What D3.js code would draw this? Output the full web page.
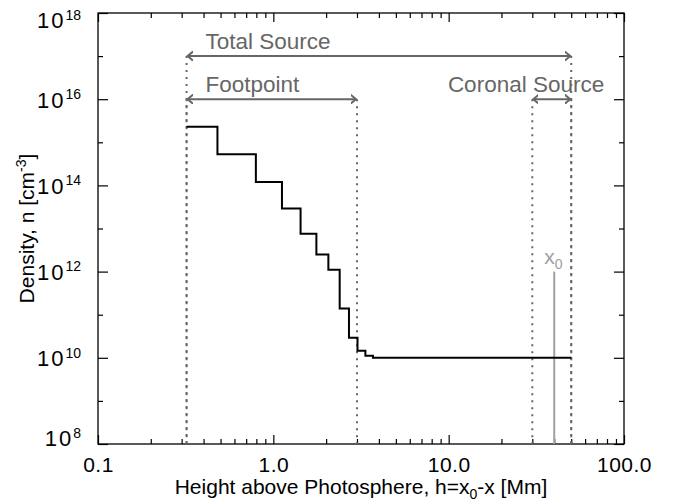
<!DOCTYPE html>
<html>
<head>
<meta charset="utf-8">
<script src="https://cdn.jsdelivr.net/npm/d3@7"></script>
<style>
  body { margin: 0; background: #fff; }
  text { font-family: Arial, "Liberation Sans", sans-serif; }
</style>
</head>
<body>
<div id="chart"></div>
<script>
// step profile: density n between consecutive heights
var stepEdges = [0.32, 0.48, 0.795, 1.12, 1.43, 1.76, 2.06, 2.39, 2.70, 3.02, 3.35, 3.7, 50];
var stepDensity = [2.3e15, 5.3e14, 1.2e14, 2.9e13, 7.6e12, 2.5e12, 1.1e12, 1.4e11, 2.9e10, 1.45e10, 1.12e10, 1.0e10];

// annotated regions
var regionNames = ['Total Source', 'Footpoint', 'Coronal Source'];
var regionFrom = [0.32, 0.32, 30];
var regionTo = [50, 3.0, 50];
var regionLevel = [1e17, 1e16, 1e16];

// x0 marker
var x0Pos = 40;
var x0Top = 1e12;

var xMajor = [0.1, 1, 10, 100];
var xMajorLabels = ['0.1', '1.0', '10.0', '100.0'];
var yMajor = [1e8, 1e10, 1e12, 1e14, 1e16, 1e18];
var yMinor = [1e9, 1e11, 1e13, 1e15, 1e17];

var width = 673, height = 502;
var padL = 98, padR = 624, padT = 13, padB = 444;
var grey = '#666', light = '#a0a0a0';

var svg = d3.select('#chart').append('svg')
    .attr('width', width)
    .attr('height', height);

var x = d3.scaleLog().domain([0.1, 100]).range([padL, padR]);
var y = d3.scaleLog().domain([1e8, 1e18]).range([padB, padT]);

var xMinor = [];
[0.1, 1, 10].forEach(function(d) {
    for (var k = 2; k <= 9; k++) xMinor.push(d * k);
});

// frame
svg.append('rect')
    .attr('x', padL).attr('y', padT)
    .attr('width', padR - padL).attr('height', padB - padT)
    .attr('fill', 'none').attr('stroke', '#000').attr('stroke-width', 1.3);

function styleAxis(g) {
    g.select('.domain').remove();
    g.selectAll('line').attr('stroke', '#000').attr('stroke-width', 1.2);
}

// bottom axis
svg.append('g').attr('transform', 'translate(0,' + padB + ')')
    .call(d3.axisBottom(x).tickValues(xMajor).tickSize(-9).tickPadding(13)
        .tickFormat(function(d, i) { return xMajorLabels[i]; }))
    .call(styleAxis)
    .selectAll('text').attr('font-size', '21px').attr('fill', '#000')
    .attr('letter-spacing', '0.5px');
svg.append('g').attr('transform', 'translate(0,' + padB + ')')
    .call(d3.axisBottom(x).tickValues(xMinor).tickSize(-5).tickFormat(''))
    .call(styleAxis);
// top axis
svg.append('g').attr('transform', 'translate(0,' + padT + ')')
    .call(d3.axisTop(x).tickValues(xMajor).tickSize(-9).tickFormat(''))
    .call(styleAxis);
svg.append('g').attr('transform', 'translate(0,' + padT + ')')
    .call(d3.axisTop(x).tickValues(xMinor).tickSize(-5).tickFormat(''))
    .call(styleAxis);

// left axis
var yl = svg.append('g').attr('transform', 'translate(' + padL + ',0)')
    .call(d3.axisLeft(y).tickValues(yMajor).tickSize(-10).tickPadding(17).tickFormat(''))
    .call(styleAxis);
yl.selectAll('.tick text').each(function(d, i) {
    var t = d3.select(this);
    var exp = Math.round(Math.log10(d));
    t.attr('font-size', '22px').attr('fill', '#000').attr('dy', '0.36em');
    t.append('tspan').attr('letter-spacing', '2px').text('10');
    t.append('tspan').attr('font-size', '14px').attr('dy', '-0.62em').text(exp);
    if (i === 0) t.attr('y', -6);
    if (i === yMajor.length - 1) t.attr('y', 7);
});
svg.append('g').attr('transform', 'translate(' + padL + ',0)')
    .call(d3.axisLeft(y).tickValues(yMinor).tickSize(-5).tickFormat(''))
    .call(styleAxis);
// right axis
svg.append('g').attr('transform', 'translate(' + padR + ',0)')
    .call(d3.axisRight(y).tickValues(yMajor).tickSize(-10).tickFormat(''))
    .call(styleAxis);
svg.append('g').attr('transform', 'translate(' + padR + ',0)')
    .call(d3.axisRight(y).tickValues(yMinor).tickSize(-5).tickFormat(''))
    .call(styleAxis);

// axis titles
var xt = svg.append('text')
    .attr('x', (padL + padR) / 2).attr('y', 494)
    .attr('text-anchor', 'middle').attr('font-size', '21px');
xt.append('tspan').text('Height above Photosphere, h=x');
xt.append('tspan').attr('font-size', '14px').attr('dy', '5').text('0');
xt.append('tspan').attr('dy', '-5').text('-x [Mm]');

var yt = svg.append('text')
    .attr('transform', 'translate(34,' + ((padT + padB) / 2) + ') rotate(-90)')
    .attr('text-anchor', 'middle').attr('font-size', '21px');
yt.append('tspan').text('Density, n [cm');
yt.append('tspan').attr('font-size', '14px').attr('dy', '-8').text('-3');
yt.append('tspan').attr('dy', '8').text(']');

// dotted region boundaries
var bounds = [];
regionNames.forEach(function(n, i) {
    bounds.push({ x: regionFrom[i], lv: regionLevel[i] });
    bounds.push({ x: regionTo[i], lv: regionLevel[i] });
});
svg.append('g').selectAll('line')
    .data(bounds)
    .enter()
    .append('line')
        .attr('x1', function(d) { return x(d.x); })
        .attr('x2', function(d) { return x(d.x); })
        .attr('y1', function(d) { return y(d.lv); })
        .attr('y2', padB)
        .attr('stroke', grey)
        .attr('stroke-width', 2)
        .attr('stroke-dasharray', '2,5');

// arrows
var defs = svg.append('defs');
function head(id, pts) {
    defs.append('marker')
        .attr('id', id)
        .attr('viewBox', '0 0 10 10')
        .attr('refX', 5).attr('refY', 5)
        .attr('markerWidth', 10).attr('markerHeight', 10)
        .attr('markerUnits', 'userSpaceOnUse')
        .attr('orient', 'auto')
        .append('path')
            .attr('d', pts)
            .attr('fill', 'none')
            .attr('stroke', grey)
            .attr('stroke-width', 2);
}
head('arrEnd', 'M-1,0 L5,5 L-1,10');
head('arrStart', 'M11,0 L5,5 L11,10');

var reg = svg.append('g').selectAll('g')
    .data(regionNames)
    .enter()
    .append('g');
reg.append('line')
    .attr('x1', function(d, i) { return x(regionFrom[i]) + 1; })
    .attr('x2', function(d, i) { return x(regionTo[i]) - 1; })
    .attr('y1', function(d, i) { return y(regionLevel[i]); })
    .attr('y2', function(d, i) { return y(regionLevel[i]); })
    .attr('stroke', grey)
    .attr('stroke-width', 2)
    .attr('marker-start', 'url(#arrStart)')
    .attr('marker-end', 'url(#arrEnd)');
reg.append('text')
    .attr('x', function(d, i) { return i < 2 ? x(regionFrom[i]) + 19 : x(regionTo[i]) + 33; })
    .attr('y', function(d, i) { return y(regionLevel[i]) - 7; })
    .attr('text-anchor', function(d, i) { return i < 2 ? 'start' : 'end'; })
    .attr('font-size', '22.5px')
    .attr('fill', grey)
    .text(function(d) { return d; });

// x0 marker
svg.append('line')
    .attr('x1', x(x0Pos)).attr('x2', x(x0Pos))
    .attr('y1', y(x0Top)).attr('y2', padB)
    .attr('stroke', light).attr('stroke-width', 2);
var x0t = svg.append('text')
    .attr('x', x(x0Pos) - 10).attr('y', y(x0Top) - 8)
    .attr('font-size', '21px').attr('fill', light);
x0t.append('tspan').text('x');
x0t.append('tspan').attr('font-size', '14px').attr('dy', '5').text('0');

// density step profile
var pts = stepDensity.map(function(v, i) { return [stepEdges[i], v]; });
pts.push([stepEdges[stepEdges.length - 1], stepDensity[stepDensity.length - 1]]);
var line = d3.line()
    .x(function(d) { return x(d[0]); })
    .y(function(d) { return y(d[1]); })
    .curve(d3.curveStepAfter);
svg.append('path')
    .datum(pts)
    .attr('d', line)
    .attr('fill', 'none')
    .attr('stroke', '#000')
    .attr('stroke-width', 2);
</script>
</body>
</html>
